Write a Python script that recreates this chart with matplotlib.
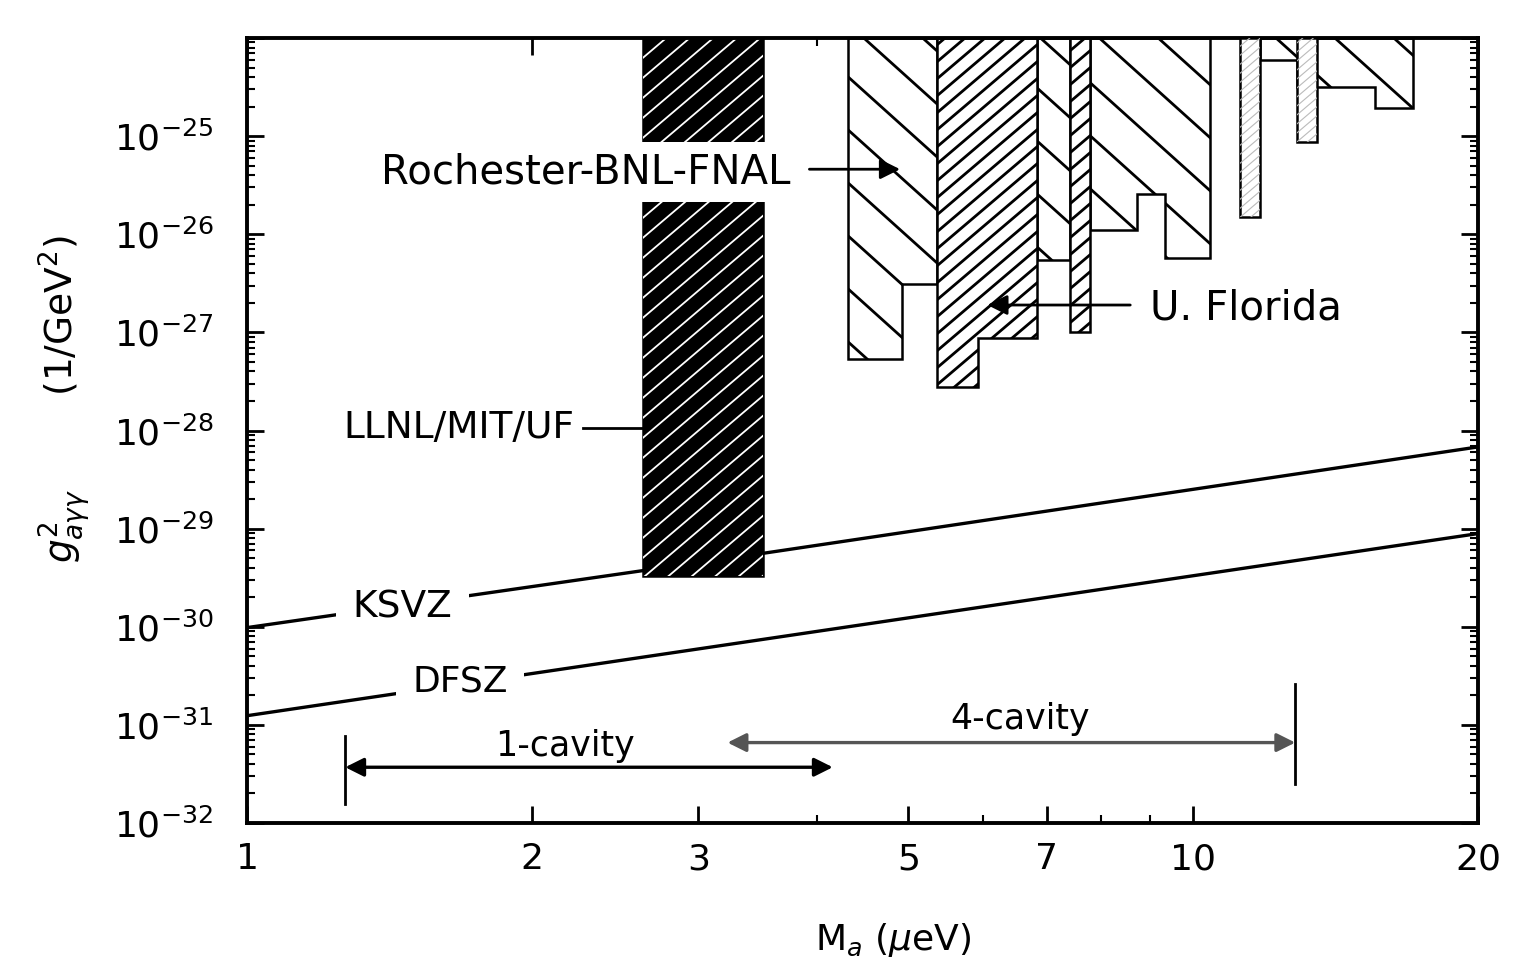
import numpy as np
import matplotlib
matplotlib.use('Agg')
import matplotlib.pyplot as plt
from matplotlib.collections import LineCollection
from matplotlib.ticker import FixedLocator, NullFormatter

plt.rcParams['font.family'] = ['DejaVu Sans']
plt.rcParams['mathtext.fontset'] = 'dejavusans'

# axion mass range and coupling range
m_lim = [1, 20]
g_lim = [1e-32, 1e-24]

# model lines
ksvz_m = [1, 3.51, 20]
ksvz_g = [9.8e-31, 5.6e-30, 6.8e-29]
dfsz_m = [1, 20]
dfsz_g = [1.24e-31, 8.9e-30]

# LLNL/MIT/UF excluded band
llnl_m = [2.62, 3.51]
llnl_g = 3.3e-30

# Rochester-BNL-FNAL excluded steps (edges in mass, floor in coupling)
rbf_a_m = [4.32, 4.92, 5.36]
rbf_a_g = [5.3e-28, 3.1e-27]
rbf_c_m = [6.84, 7.41]
rbf_c_g = [5.5e-27]
rbf_e_m = [7.78, 8.73, 9.34, 10.42]
rbf_e_g = [1.1e-26, 2.6e-26, 5.7e-27]
rbf_g_m = [11.77, 12.88, 13.53, 15.57, 17.09]
rbf_g_g = [6e-25, 3.2e-25, 3.2e-25, 1.95e-25]

# U. Florida excluded steps
uf_b_m = [5.36, 5.93, 6.84]
uf_b_g = [2.8e-28, 8.7e-28]
uf_d_m = [7.41, 7.78]
uf_d_g = [1.0e-27]
strip1_m = [11.21, 11.77]
strip1_g = [1.5e-26]
strip2_m = [12.88, 13.53]
strip2_g = [8.7e-26]

# scan ranges
cav1_m = [1.27, 4.16]
cav1_g = 3.7e-32
cav1_bar = [1.56e-32, 7.7e-32]
cav4_m = [3.22, 12.82]
cav4_g = 6.6e-32
cav4_bar = [2.5e-32, 2.63e-31]

x_major = [1, 2, 3, 5, 7, 10, 20]
x_minor = [4, 6, 8, 9]
y_major = [1e-32, 1e-31, 1e-30, 1e-29, 1e-28, 1e-27, 1e-26, 1e-25, 1e-24]
y_labels = ['$10^{-32}$', '$10^{-31}$', '$10^{-30}$', '$10^{-29}$', '$10^{-28}$',
            '$10^{-27}$', '$10^{-26}$', '$10^{-25}$', '']

fig = plt.figure(figsize=(15.25, 9.69), dpi=100)
ax = fig.add_axes([247/1525, 1-823/969, 1231/1525, 785/969])
ax.set_xscale('log')
ax.set_yscale('log')
ax.set_xlim(m_lim)
ax.set_ylim(g_lim)
top = g_lim[1]


def step_outline(edges, floors):
    xs, ys = [edges[0]], [top]
    for i, f in enumerate(floors):
        xs += [edges[i], edges[i+1]]
        ys += [f, f]
    xs.append(edges[-1])
    ys.append(top)
    return xs, ys


def hatch(patch, gap_px, slope, color, lw, z):
    bb = ax.get_position()
    W = bb.width * fig.get_figwidth() * fig.dpi
    H = bb.height * fig.get_figheight() * fig.dpi
    k = slope * W / H
    cs = np.arange(-abs(k) - 1, abs(k) + 1, gap_px / H)
    segs = [[(0, c), (1, c + k)] for c in cs]
    lc = LineCollection(segs, colors=color, linewidths=lw, transform=ax.transAxes, zorder=z)
    ax.add_collection(lc, autolim=False)
    lc.set_clip_path(patch)


def region(edges, floors, face, gap, slope, hcolor, hlw, z=2):
    xs, ys = step_outline(edges, floors)
    p = ax.fill(xs, ys, facecolor=face, edgecolor='black', linewidth=1.8, zorder=z)[0]
    if gap:
        hatch(p, gap, slope, hcolor, hlw, z + 0.1)
    return p


# LLNL/MIT/UF dark band
region(llnl_m, [llnl_g], 'black', 20, 0.85, 'white', 1.3)

# Rochester-BNL-FNAL (sparse \ hatch)
for e, f in [(rbf_a_m, rbf_a_g), (rbf_c_m, rbf_c_g), (rbf_e_m, rbf_e_g), (rbf_g_m, rbf_g_g)]:
    region(e, f, 'white', 53, -0.9, 'black', 2.0)

# U. Florida (dense / hatch)
for e, f in [(uf_b_m, uf_b_g), (uf_d_m, uf_d_g)]:
    region(e, f, 'white', 17, 0.85, 'black', 2.0)
for e, f in [(strip1_m, strip1_g), (strip2_m, strip2_g)]:
    region(e, f, 'white', 9, 0.85, '#bbbbbb', 0.8, z=3)

# model lines
ax.plot(ksvz_m, ksvz_g, color='black', lw=2.4, zorder=1)
ax.plot(dfsz_m, dfsz_g, color='black', lw=2.4, zorder=1)
ax.text(1.46, 1.56e-30, 'KSVZ', fontsize=27, ha='center', va='center', zorder=4,
        bbox=dict(boxstyle='square,pad=0.45', facecolor='white', edgecolor='none'))
ax.text(1.68, 2.76e-31, 'DFSZ', fontsize=26, ha='center', va='center', zorder=4,
        bbox=dict(boxstyle='square,pad=0.45', facecolor='white', edgecolor='none'))

# labels with arrows
ax.text(2.28, 4.3e-26, 'Rochester-BNL-FNAL', fontsize=29, ha='center', va='center', zorder=6,
        bbox=dict(boxstyle='square,pad=0.25', facecolor='white', edgecolor='none'))
ax.annotate('', xy=(4.90, 4.6e-26), xytext=(3.93, 4.6e-26), zorder=7,
            arrowprops=dict(arrowstyle='-|>', color='black', lw=2, mutation_scale=30,
                            shrinkA=0, shrinkB=0))
ax.text(9.01, 1.75e-27, 'U. Florida', fontsize=29, ha='left', va='center', zorder=6)
ax.annotate('', xy=(6.06, 1.9e-27), xytext=(8.58, 1.9e-27), zorder=7,
            arrowprops=dict(arrowstyle='-|>', color='black', lw=2, mutation_scale=30,
                            shrinkA=0, shrinkB=0))
ax.text(2.22, 1.05e-28, 'LLNL/MIT/UF', fontsize=27, ha='right', va='center', zorder=6)
ax.plot([2.265, llnl_m[0]], [1.05e-28, 1.05e-28], color='black', lw=2, zorder=6)

# cavity scan ranges
ax.plot([cav1_m[0], cav1_m[0]], cav1_bar, color='black', lw=2)
ax.annotate('', xy=(cav1_m[1], cav1_g), xytext=(cav1_m[0], cav1_g),
            arrowprops=dict(arrowstyle='<|-|>', color='black', lw=2.4, mutation_scale=28,
                            shrinkA=0, shrinkB=0))
ax.text(2.17, 6.1e-32, '1-cavity', fontsize=25, ha='center', va='center')
ax.plot([cav4_m[1], cav4_m[1]], cav4_bar, color='black', lw=2)
ax.annotate('', xy=(cav4_m[1], cav4_g), xytext=(cav4_m[0], cav4_g),
            arrowprops=dict(arrowstyle='<|-|>', color='#555555', lw=2.4, mutation_scale=28,
                            shrinkA=0, shrinkB=0))
ax.text(6.56, 1.15e-31, '4-cavity', fontsize=25, ha='center', va='center')

# axes styling
ax.xaxis.set_major_locator(FixedLocator(x_major))
ax.xaxis.set_minor_locator(FixedLocator(x_minor))
ax.set_xticklabels([str(v) for v in x_major])
ax.xaxis.set_minor_formatter(NullFormatter())
ax.yaxis.set_major_locator(FixedLocator(y_major))
ax.set_yticklabels(y_labels)
ax.yaxis.set_minor_formatter(NullFormatter())
ax.tick_params(which='both', direction='in', top=True, right=True)
ax.tick_params(which='major', length=12, width=2, labelsize=26)
ax.tick_params(axis='x', which='major', pad=14)
ax.tick_params(axis='y', which='major', pad=24)
ax.tick_params(which='minor', length=6, width=1.5)
for s in ax.spines.values():
    s.set_linewidth(2.8)

ax.set_xlabel(r'M$_a$ ($\mu$eV)', fontsize=26)
ax.xaxis.set_label_coords(0.525, -0.125)
ax.set_ylabel(r'$g^2_{a\gamma\gamma}$        (1/GeV$^2$)', fontsize=27)
ax.yaxis.set_label_coords(-0.125, 0.54)

fig.savefig('out.png', dpi=100)
